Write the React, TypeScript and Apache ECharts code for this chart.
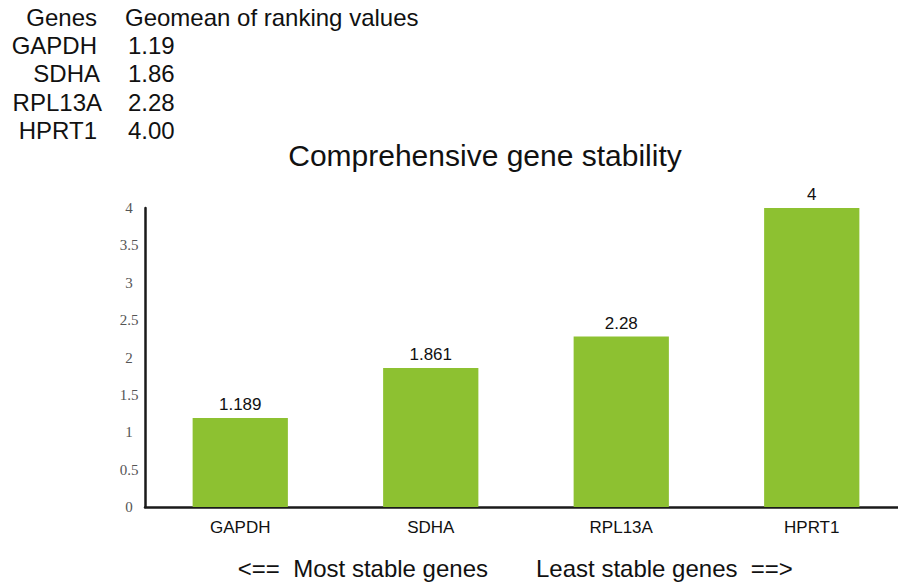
import React, { useEffect, useRef } from "react";
import * as echarts from "echarts";

const genes = ["GAPDH", "SDHA", "RPL13A", "HPRT1"];
const barValues = [1.189, 1.861, 2.28, 4];
const tableValues = ["1.19", "1.86", "2.28", "4.00"];
const tableHeader = ["Genes", "Geomean of ranking values"];
const chartTitle = "Comprehensive gene stability";
const bottomLeft = "<==  Most stable genes";
const bottomRight = "Least stable genes  ==>";

const SANS = "'Liberation Sans', Arial, sans-serif";
const SERIF = "'Liberation Serif', 'Times New Roman', serif";

export default function App() {
  const ref = useRef<HTMLDivElement>(null);
  useEffect(() => {
    document.body.style.margin = "0";
    if (!ref.current) return;
    const chart = echarts.init(ref.current, undefined, { renderer: "svg" });
    const nameRight = [97, 100, 102, 97];
    const rowY = [45, 73.5, 102, 130.5];
    const tableText: any[] = [
      {
        type: "text",
        x: 97,
        y: 17,
        style: { text: tableHeader[0], font: `24px ${SANS}`, fill: "#111", align: "right", verticalAlign: "middle" },
      },
      {
        type: "text",
        x: 125,
        y: 17,
        style: { text: tableHeader[1], font: `24px ${SANS}`, fill: "#111", align: "left", verticalAlign: "middle" },
      },
    ];
    genes.forEach((g, i) => {
      tableText.push({
        type: "text",
        x: nameRight[i],
        y: rowY[i],
        style: { text: g, font: `24px ${SANS}`, fill: "#111", align: "right", verticalAlign: "middle" },
      });
      tableText.push({
        type: "text",
        x: 128,
        y: rowY[i],
        style: { text: tableValues[i], font: `24px ${SANS}`, fill: "#111", align: "left", verticalAlign: "middle" },
      });
    });
    chart.setOption({
      animation: false,
      backgroundColor: "#fff",
      grid: { left: 145, top: 208, bottom: 78, width: 762 },
      xAxis: {
        type: "category",
        data: genes,
        axisLine: { show: true, lineStyle: { color: "#1a1a1a", width: 2.5 } },
        axisTick: { show: false },
        axisLabel: { color: "#111", fontFamily: SANS, fontSize: 17, margin: 12 },
      },
      yAxis: {
        type: "value",
        min: 0,
        max: 4,
        interval: 0.5,
        splitLine: { show: false },
        axisLine: { show: true, lineStyle: { color: "#1a1a1a", width: 2.5 } },
        axisTick: { show: false },
        axisLabel: {
          color: "#555",
          fontFamily: SERIF,
          fontSize: 15,
          align: "center",
          margin: 16,
        },
      },
      series: [
        {
          type: "bar",
          data: barValues,
          barWidth: "50%",
          itemStyle: { color: "#8dc131" },
          label: {
            show: true,
            position: "top",
            distance: 5,
            color: "#111",
            fontFamily: SANS,
            fontSize: 17,
          },
        },
      ],
      graphic: [
        ...tableText,
        {
          type: "text",
          x: 485,
          y: 155,
          style: { text: chartTitle, font: `30px ${SANS}`, fill: "#111", align: "center", verticalAlign: "middle" },
        },
        {
          type: "text",
          x: 488,
          y: 568,
          style: { text: bottomLeft, font: `24px ${SANS}`, fill: "#111", align: "right", verticalAlign: "middle" },
        },
        {
          type: "text",
          x: 536,
          y: 568,
          style: { text: bottomRight, font: `24px ${SANS}`, fill: "#111", align: "left", verticalAlign: "middle" },
        },
      ],
    });
    return () => chart.dispose();
  }, []);
  return (
    <div style={{ width: 898, height: 585, overflow: "hidden", position: "relative" }}>
      <div ref={ref} style={{ width: 910, height: 585 }} />
    </div>
  );
}
